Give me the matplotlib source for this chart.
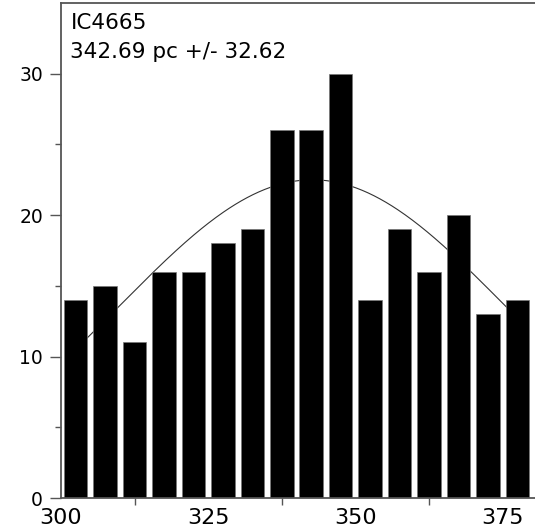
import numpy as np
import matplotlib
matplotlib.use("Agg")
import matplotlib.pyplot as plt
from matplotlib.ticker import FixedLocator

# histogram of distances (pc), 5 pc bins
bin_centers = [302.5, 307.5, 312.5, 317.5, 322.5, 327.5, 332.5, 337.5,
               342.5, 347.5, 352.5, 357.5, 362.5, 367.5, 372.5, 377.5]
counts = [14, 15, 11, 16, 16, 18, 19, 26, 26, 30, 14, 19, 16, 20, 13, 14]

# gaussian fit
fit_mean = 342.69
fit_sigma = 32.62
fit_amp = 22.5

cluster = "IC4665"
x_ticks = [300, 325, 350, 375]
x_minor = [312.5, 337.5, 362.5]
y_ticks = [0, 10, 20, 30]
y_minor = [5, 15, 25]

fig = plt.figure(figsize=(5.35, 5.29), dpi=100)
ax = fig.add_axes([61 / 535, 31 / 529, 1 - 61 / 535, 495 / 529])

xs = np.linspace(bin_centers[0], bin_centers[-1], 300)
ax.plot(xs, fit_amp * np.exp(-0.5 * ((xs - fit_mean) / fit_sigma) ** 2),
        color="#333333", lw=0.8, zorder=1)
ax.bar(bin_centers, counts, width=4.0, color="black", edgecolor="#777777",
       linewidth=0.5, zorder=2)

ax.set_xlim(300, 380.5)
ax.set_ylim(0, 35)

for s in ["left", "bottom", "top"]:
    ax.spines[s].set_color("#555555")
    ax.spines[s].set_linewidth(1.3)
ax.spines["right"].set_visible(False)

ax.set_xticks(x_ticks)
ax.xaxis.set_minor_locator(FixedLocator(x_minor))
ax.set_yticks(y_ticks)
ax.yaxis.set_minor_locator(FixedLocator(y_minor))
ax.tick_params(axis="x", which="major", length=0, pad=7, labelsize=16)
ax.tick_params(axis="x", which="minor", length=5, width=1, color="#555555")
ax.tick_params(axis="y", which="major", length=8, width=1, pad=5,
               labelsize=13.5, color="#555555")
ax.tick_params(axis="y", which="minor", length=4, width=1, color="#555555")

ax.text(0.02, 0.98, cluster, transform=ax.transAxes, ha="left", va="top",
        fontsize=15.5)
ax.text(0.02, 0.921, f"{fit_mean:.2f} pc +/- {fit_sigma:.2f}",
        transform=ax.transAxes, ha="left", va="top", fontsize=15.5)

fig.savefig("out.png", dpi=100)
